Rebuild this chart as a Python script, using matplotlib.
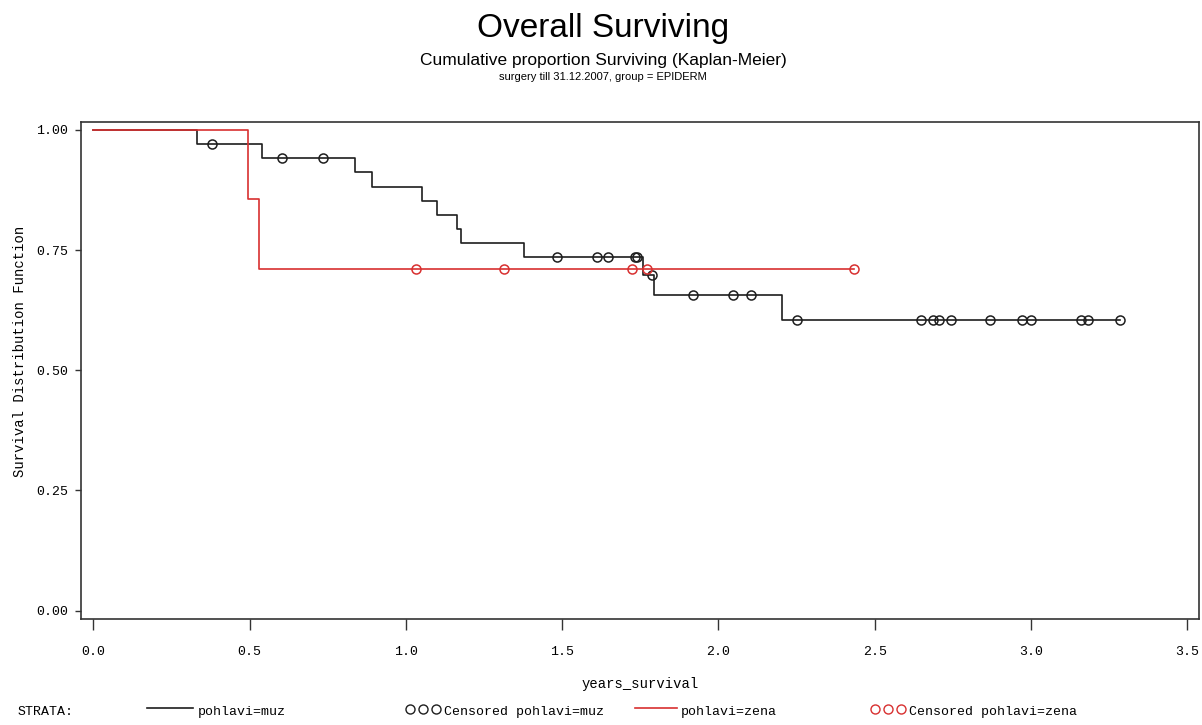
import matplotlib
matplotlib.use("Agg")
import matplotlib.pyplot as plt
from matplotlib.lines import Line2D
import numpy as np

# ---- data ----
muz_times = [0.0, 0.331, 0.541, 0.837, 0.893, 1.052, 1.099, 1.163, 1.176, 1.379, 1.759, 1.795, 2.204]
muz_surv = [1.0, 0.970, 0.941, 0.912, 0.882, 0.852, 0.823, 0.794, 0.764, 0.735, 0.698, 0.657, 0.605]
muz_end = 3.284
muz_cens = [0.379, 0.604, 0.734, 1.482, 1.610, 1.646, 1.733, 1.740, 1.786, 1.919, 2.047, 2.104,
            2.252, 2.647, 2.687, 2.706, 2.743, 2.869, 2.970, 3.000, 3.160, 3.183, 3.284]

zena_times = [0.0, 0.494, 0.530]
zena_surv = [1.0, 0.857, 0.711]
zena_end = 2.434
zena_cens = [1.034, 1.314, 1.724, 1.773, 2.434]

xticks = [0.0, 0.5, 1.0, 1.5, 2.0, 2.5, 3.0, 3.5]
yticks = [0.0, 0.25, 0.50, 0.75, 1.00]

title = "Overall Surviving"
subtitle = "Cumulative proportion Surviving (Kaplan-Meier)"
subtitle2 = "surgery till 31.12.2007, group = EPIDERM"

BLACK = "#1e1e1e"
RED = "#d83030"
MONO = "Liberation Mono"
SANS = "Liberation Sans"


def surv_at(t, times, surv):
    idx = np.searchsorted(times, t, side="right") - 1
    return surv[idx]


fig = plt.figure(figsize=(12.02, 7.25), dpi=100)
ax = fig.add_axes([81 / 1202, 1 - 619.3 / 725, (1199.3 - 81) / 1202, (619.3 - 121.7) / 725])

# muz
ax.step(muz_times + [muz_end], muz_surv + [muz_surv[-1]], where="post", color=BLACK, lw=1.2, zorder=2)
ax.plot(muz_cens, [surv_at(t, muz_times, muz_surv) for t in muz_cens], ls="none", marker="o",
        ms=6.5, mfc="none", mec=BLACK, mew=1.1, zorder=3)
# zena
ax.step(zena_times + [zena_end], zena_surv + [zena_surv[-1]], where="post", color=RED, lw=1.2, zorder=4)
ax.plot(zena_cens, [surv_at(t, zena_times, zena_surv) for t in zena_cens], ls="none", marker="o",
        ms=6.5, mfc="none", mec=RED, mew=1.1, zorder=5)

ax.set_xlim(-0.039, 3.538)
ax.set_ylim(-0.018, 1.017)
ax.set_xticks(xticks)
ax.set_xticklabels([f"{v:.1f}" for v in xticks], fontfamily=MONO, fontsize=9.5)
ax.set_yticks(yticks)
ax.set_yticklabels([f"{v:.2f}" for v in yticks], fontfamily=MONO, fontsize=9.5)
ax.tick_params(axis="x", direction="out", length=8, width=1, pad=11, color="#333333")
ax.tick_params(axis="y", direction="out", length=4, width=1, pad=5, color="#333333")
for s in ax.spines.values():
    s.set_color("#333333")
    s.set_linewidth(1.2)

fig.text(20 / 1202, 1 - 351 / 725, "Survival Distribution Function", rotation=90, ha="center",
         va="center", fontfamily=MONO, fontsize=10)
fig.text(640 / 1202, 1 - 684 / 725, "years_survival", ha="center", va="center",
         fontfamily=MONO, fontsize=10)

fig.text(603 / 1202, 1 - 28 / 725, title, ha="center", va="center", fontfamily=SANS, fontsize=24)
fig.text(603 / 1202, 1 - 60 / 725, subtitle, ha="center", va="center", fontfamily=SANS, fontsize=12.5)
fig.text(603 / 1202, 1 - 77 / 725, subtitle2, ha="center", va="center", fontfamily=SANS, fontsize=8)

# legend row
ly = 1 - 712 / 725
fig.text(18 / 1202, ly, "STRATA:", ha="left", va="center", fontfamily=MONO, fontsize=9.5)
fig.add_artist(Line2D([147 / 1202, 193 / 1202], [ly + 0.006, ly + 0.006], color=BLACK, lw=1.2,
                      transform=fig.transFigure))
fig.text(198 / 1202, ly, "pohlavi=muz", ha="left", va="center", fontfamily=MONO, fontsize=9.5)
fig.add_artist(Line2D([410 / 1202, 423 / 1202, 436 / 1202], [ly + 0.004] * 3, ls="none", marker="o",
                      ms=6.5, mfc="none", mec=BLACK, mew=1.0, transform=fig.transFigure))
fig.text(444 / 1202, ly, "Censored pohlavi=muz", ha="left", va="center", fontfamily=MONO, fontsize=9.5)
fig.add_artist(Line2D([635 / 1202, 677 / 1202], [ly + 0.006, ly + 0.006], color=RED, lw=1.2,
                      transform=fig.transFigure))
fig.text(681 / 1202, ly, "pohlavi=zena", ha="left", va="center", fontfamily=MONO, fontsize=9.5)
fig.add_artist(Line2D([875 / 1202, 888 / 1202, 901 / 1202], [ly + 0.004] * 3, ls="none", marker="o",
                      ms=6.5, mfc="none", mec=RED, mew=1.0, transform=fig.transFigure))
fig.text(909 / 1202, ly, "Censored pohlavi=zena", ha="left", va="center", fontfamily=MONO, fontsize=9.5)

fig.savefig("out.png", dpi=100)
